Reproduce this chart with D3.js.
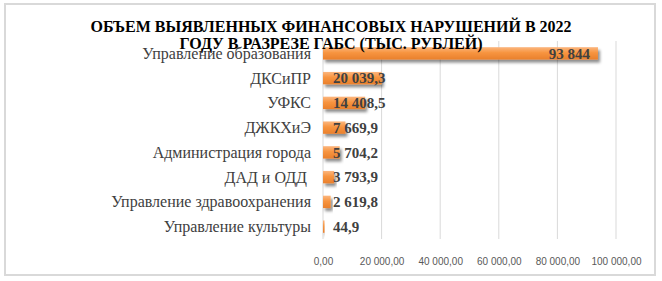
<!DOCTYPE html>
<meta charset='utf-8'>
<style>
  body { margin: 0; background: #fff; }
  .frame { fill: #fff; stroke: #d9d9d9; stroke-width: 2; }
  .title { font-family: "Liberation Serif", serif; font-weight: bold; font-size: 16px; fill: #000; }
  .cat { font-family: "Liberation Serif", serif; font-size: 16px; fill: #404040; }
  .val { font-family: "Liberation Serif", serif; font-weight: bold; font-size: 15px; fill: #404040; }
  .tick text { font-family: "Liberation Sans", sans-serif; font-size: 10px; fill: #595959; }
</style>
<svg width="662" height="281"></svg>
<script src="https://d3js.org/d3.v7.min.js"></script>
<script>

var categories = ["Управление образования", "ДКСиПР", "УФКС", "ДЖКХиЭ",
  "Администрация города", "ДАД и ОДД ", "Управление здравоохранения", "Управление культуры"];
var values = [93844, 20039.3, 14408.5, 7669.9, 5704.2, 3793.9, 2619.8, 44.9];
var valueLabels = ["93 844", "20 039,3", "14 408,5", "7 669,9", "5 704,2", "3 793,9", "2 619,8", "44,9"];
var ticks = [0, 20000, 40000, 60000, 80000, 100000];
var titleLines = ["ОБЪЕМ ВЫЯВЛЕННЫХ ФИНАНСОВЫХ НАРУШЕНИЙ В 2022", "ГОДУ В РАЗРЕЗЕ ГАБС (ТЫС. РУБЛЕЙ)"];

var svg = d3.select("svg");

svg.append("rect").attr("class", "frame")
  .attr("x", 5).attr("y", 4).attr("width", 650).attr("height", 271);

var defs = svg.append("defs");
var grad = defs.append("linearGradient").attr("id", "barGrad")
  .attr("x1", 0).attr("y1", 0).attr("x2", 0).attr("y2", 1);
grad.append("stop").attr("offset", "0%").attr("stop-color", "#fbb67f");
grad.append("stop").attr("offset", "45%").attr("stop-color", "#f7943f");
grad.append("stop").attr("offset", "100%").attr("stop-color", "#e9802c");

var shadow = defs.append("filter").attr("id", "shadow")
  .attr("x", "-10%").attr("y", "-50%").attr("width", "130%").attr("height", "220%");
shadow.append("feDropShadow").attr("dx", 2).attr("dy", 3)
  .attr("stdDeviation", 1.5).attr("flood-color", "#000").attr("flood-opacity", 0.45);

var x = d3.scaleLinear().domain([0, 100000]).range([323, 616]);
var y = d3.scaleBand().domain(categories).range([41, 239]).paddingInner(0.5).paddingOuter(0.25);

var ru = d3.formatLocale({ decimal: ",", thousands: "\u00a0", grouping: [3], currency: ["", ""] });

// gridlines
svg.append("g")
  .selectAll("line")
  .data(ticks.slice(1))
  .join("line")
  .attr("x1", d => x(d)).attr("x2", d => x(d))
  .attr("y1", 41).attr("y2", 239)
  .attr("stroke", "#d9d9d9").attr("stroke-width", 1);

// axis
var xAxis = svg.append("g")
  .attr("transform", "translate(0,255)")
  .call(d3.axisBottom(x).tickValues(ticks).tickFormat(ru.format(",.2f")).tickSize(0));
xAxis.select(".domain").remove();

svg.append("line")
  .attr("x1", x(0)).attr("x2", x(0)).attr("y1", 41).attr("y2", 239)
  .attr("stroke", "#d9d9d9");

// bars
svg.append("g")
  .selectAll("rect")
  .data(values)
  .join("rect")
  .attr("x", x(0))
  .attr("y", (d, i) => y(categories[i]))
  .attr("width", d => Math.max(1.5, x(d) - x(0)))
  .attr("height", y.bandwidth())
  .attr("fill", "url(#barGrad)")
  .attr("filter", "url(#shadow)");

// category labels
svg.append("g")
  .selectAll("text")
  .data(categories)
  .join("text")
  .attr("class", "cat")
  .attr("x", 311)
  .attr("y", d => y(d) + y.bandwidth() / 2)
  .attr("dy", "0.35em")
  .attr("text-anchor", "end")
  .style("white-space", "pre")
  .text(d => d);

// value labels
svg.append("g")
  .selectAll("text")
  .data(values)
  .join("text")
  .attr("class", "val")
  .attr("x", (d, i) => i == 0 ? x(d) - 8 : x(0) + 10)
  .attr("y", (d, i) => y(categories[i]) + y.bandwidth() / 2)
  .attr("dy", "0.35em")
  .attr("text-anchor", (d, i) => i == 0 ? "end" : "start")
  .text((d, i) => valueLabels[i]);

// title
svg.append("g")
  .selectAll("text")
  .data(titleLines)
  .join("text")
  .attr("class", "title")
  .attr("x", 331)
  .attr("y", (d, i) => 32 + i * 17)
  .attr("text-anchor", "middle")
  .text(d => d);

</script>
